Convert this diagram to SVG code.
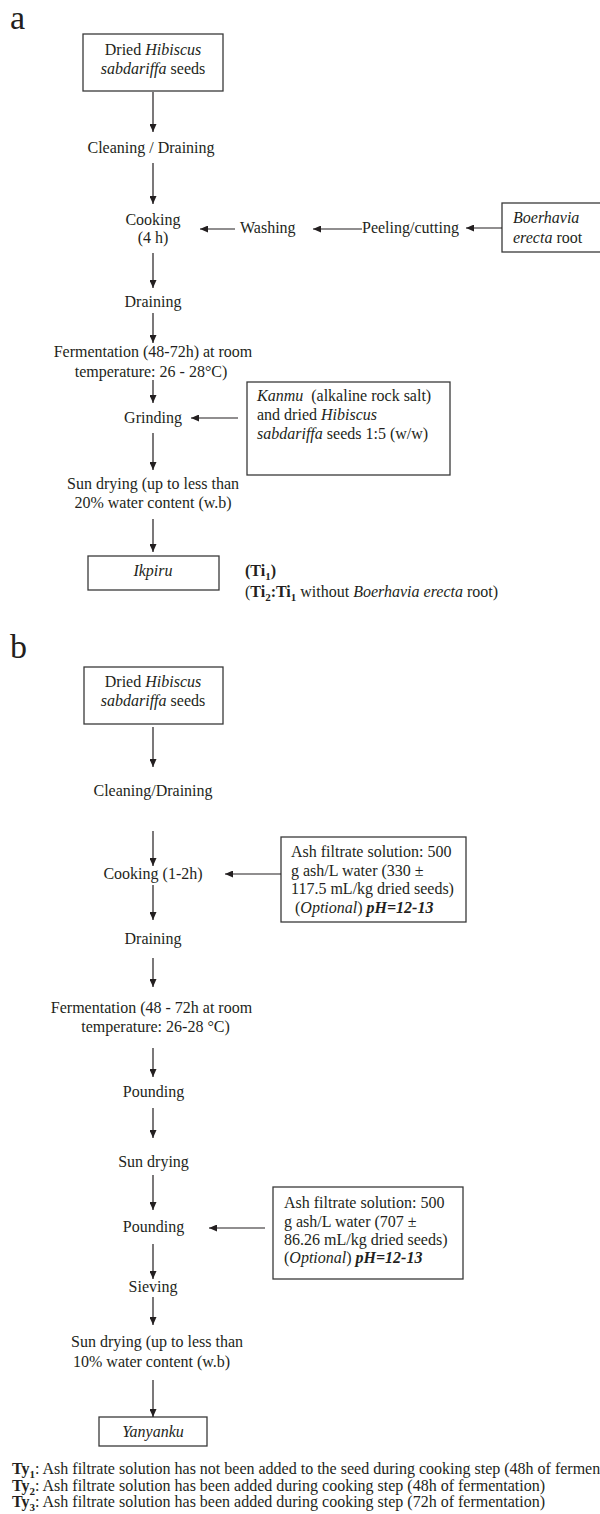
<svg xmlns="http://www.w3.org/2000/svg" width="600" height="1514" viewBox="0 0 600 1514">
<defs>
<marker id="ah" markerWidth="8" markerHeight="7" refX="8" refY="3.5" orient="auto" markerUnits="userSpaceOnUse">
<path d="M0,0 L8,3.5 L0,7 z" fill="#231f20"/>
</marker>
<style>
text{font-family:"Liberation Serif","Times New Roman",serif;font-size:16px;fill:#231f20}
.c{text-anchor:middle}
.box{fill:#fff;stroke:#3a3a3a;stroke-width:1.3}
.con line{stroke:#231f20;stroke-width:1.2;marker-end:url(#ah)}
.lab{font-size:34px}
.i{font-style:italic}
.b{font-weight:bold}
.s{font-size:11px}
</style>
</defs>
<rect width="600" height="1514" fill="#fff"/>

<!-- Panel a -->
<text class="lab" x="10" y="29">a</text>
<g id="a_seeds"><rect class="box" x="83" y="34" width="140" height="57"/>
<text class="c" x="153" y="55">Dried <tspan class="i">Hibiscus</tspan></text>
<text class="c" x="153" y="74"><tspan class="i">sabdariffa</tspan> seeds</text></g>
<g id="a_clean"><text class="c" x="151" y="153">Cleaning / Draining</text></g>
<g id="a_cook"><text class="c" x="153" y="225">Cooking</text><text class="c" x="153" y="243">(4 h)</text></g>
<g id="a_wash"><text x="240" y="233">Washing</text></g>
<g id="a_peel"><text x="362" y="233">Peeling/cutting</text></g>
<g id="a_root"><rect class="box" x="502" y="203" width="110" height="49"/>
<text x="513" y="223" class="i">Boerhavia</text>
<text x="513" y="243"><tspan class="i">erecta</tspan> root</text></g>
<g id="a_drain"><text class="c" x="153" y="307">Draining</text></g>
<g id="a_ferm"><text class="c" x="153" y="357">Fermentation (48-72h) at room</text><text class="c" x="151" y="377">temperature: 26 - 28°C)</text></g>
<g id="a_grind"><text class="c" x="153" y="423">Grinding</text></g>
<g id="a_kanmu"><rect class="box" x="247" y="382" width="203" height="93"/>
<text x="257" y="401"><tspan class="i">Kanmu</tspan>&#160; (alkaline rock salt)</text>
<text x="257" y="420">and dried <tspan class="i">Hibiscus</tspan></text>
<text x="257" y="439"><tspan class="i">sabdariffa</tspan> seeds 1:5 (w/w)</text></g>
<g id="a_dry"><text class="c" x="153" y="489">Sun drying (up to less than</text><text class="c" x="153" y="508">20% water content (w.b)</text></g>
<g id="a_ikpiru"><rect class="box" x="88" y="556" width="131" height="34"/>
<text class="c i" x="153" y="576">Ikpiru</text></g>
<g id="a_note">
<text x="245" y="576" class="b">(Ti<tspan class="s" dy="4">1</tspan><tspan dy="-4">)</tspan></text>
<text x="245" y="597">(<tspan class="b">Ti<tspan class="s" dy="4">2</tspan><tspan dy="-4">:Ti</tspan><tspan class="s" dy="4">1</tspan></tspan><tspan dy="-4"> without </tspan><tspan class="i">Boerhavia erecta</tspan> root)</text>
</g>

<!-- Panel b -->
<text class="lab" x="10" y="658">b</text>
<g id="b_seeds"><rect class="box" x="84" y="667" width="139" height="57"/>
<text class="c" x="153" y="687">Dried <tspan class="i">Hibiscus</tspan></text>
<text class="c" x="153" y="706"><tspan class="i">sabdariffa</tspan> seeds</text></g>
<g id="b_clean"><text class="c" x="153" y="796">Cleaning/Draining</text></g>
<g id="b_cook"><text class="c" x="153" y="879">Cooking (1-2h)</text></g>
<g id="b_ash1"><rect class="box" x="281" y="837" width="185" height="85"/>
<text x="291" y="857">Ash filtrate solution: 500</text>
<text x="291" y="876">g ash/L water (330 ±</text>
<text x="291" y="894">117.5 mL/kg dried seeds)</text>
<text x="295" y="913">(<tspan class="i">Optional</tspan>) <tspan class="i b">pH=12-13</tspan></text></g>
<g id="b_drain"><text class="c" x="153" y="944">Draining</text></g>
<g id="b_ferm"><text class="c" x="151.5" y="1013">Fermentation (48 - 72h at room</text><text class="c" x="155.5" y="1032">temperature: 26-28 °C)</text></g>
<g id="b_pound1"><text class="c" x="153.5" y="1097">Pounding</text></g>
<g id="b_dry1"><text class="c" x="153.5" y="1167">Sun drying</text></g>
<g id="b_pound2"><text class="c" x="153.5" y="1232">Pounding</text></g>
<g id="b_ash2"><rect class="box" x="273" y="1187" width="190" height="92"/>
<text x="284" y="1208">Ash filtrate solution: 500</text>
<text x="284" y="1227">g ash/L water (707 ±</text>
<text x="284" y="1245">86.26 mL/kg dried seeds)</text>
<text x="284" y="1263">(<tspan class="i">Optional</tspan>) <tspan class="i b">pH=12-13</tspan></text></g>
<g id="b_sieve"><text class="c" x="153" y="1292">Sieving</text></g>
<g id="b_dry2"><text x="71" y="1347">Sun drying (up to less than</text><text x="73" y="1367">10% water content (w.b)</text></g>
<g id="b_yan"><rect class="box" x="99" y="1417" width="108" height="29"/>
<text class="c i" x="153" y="1437">Yanyanku</text></g>
<g id="b_notes">
<text x="12" y="1474"><tspan class="b">Ty</tspan><tspan class="b s" dy="4">1</tspan><tspan dy="-4">: Ash filtrate solution has not been added to the seed during cooking step (48h of fermen</tspan></text>
<text x="12" y="1491"><tspan class="b">Ty</tspan><tspan class="b s" dy="4">2</tspan><tspan dy="-4">: Ash filtrate solution has been added during cooking step (48h of fermentation)</tspan></text>
<text x="12" y="1507"><tspan class="b">Ty</tspan><tspan class="b s" dy="4">3</tspan><tspan dy="-4">: Ash filtrate solution has been added during cooking step (72h of fermentation)</tspan></text>
</g>

<g id="connectors" class="con">
<line x1="153" y1="92" x2="153" y2="132"/>
<line x1="153" y1="163" x2="153" y2="204"/>
<line x1="235" y1="229" x2="200" y2="229"/>
<line x1="362" y1="229" x2="313" y2="229"/>
<line x1="502" y1="228" x2="466" y2="228"/>
<line x1="153" y1="253" x2="153" y2="288"/>
<line x1="153" y1="313" x2="153" y2="343"/>
<line x1="153" y1="380" x2="153" y2="403"/>
<line x1="238" y1="418" x2="191" y2="418"/>
<line x1="153" y1="433" x2="153" y2="470"/>
<line x1="153" y1="519" x2="153" y2="552"/>
<line x1="153" y1="727" x2="153" y2="767"/>
<line x1="153" y1="831" x2="153" y2="866"/>
<line x1="281" y1="874" x2="225" y2="874"/>
<line x1="153" y1="885" x2="153" y2="920"/>
<line x1="153" y1="958" x2="153" y2="987"/>
<line x1="153" y1="1048" x2="153" y2="1077"/>
<line x1="153" y1="1108" x2="153" y2="1138"/>
<line x1="153" y1="1175" x2="153" y2="1210"/>
<line x1="265" y1="1228" x2="209" y2="1228"/>
<line x1="153" y1="1244" x2="153" y2="1279"/>
<line x1="153" y1="1297" x2="153" y2="1325"/>
<line x1="153" y1="1380" x2="153" y2="1417"/>
</g>
</svg>
